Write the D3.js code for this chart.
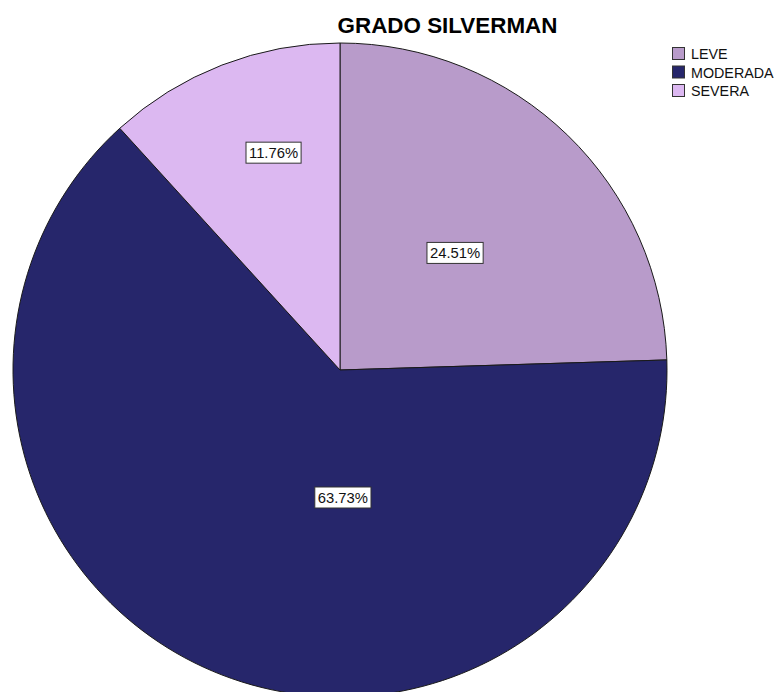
<!DOCTYPE html>
<html>
<head>
<meta charset="utf-8">
<script src="https://cdn.jsdelivr.net/npm/d3@7"></script>
<style>
  html, body { margin: 0; padding: 0; background: #fff; }
  svg { display: block; }
</style>
</head>
<body>
<svg id="chart" width="774" height="692"></svg>
<script>
// ---- data ----
const categories = ["LEVE", "MODERADA", "SEVERA"];
const values = [24.51, 63.73, 11.76];
const valueLabels = ["24.51%", "63.73%", "11.76%"];
const colors = ["#b89bca", "#26266b", "#dcb8f1"];
const titleText = "GRADO SILVERMAN";

// ---- label placement (layout config, degrees clockwise from top, fraction of radius) ----
const labelAngles = [44.5, 178.7, 343.0];
const labelRadii = [0.502, 0.39, 0.695];

const W = 774, H = 692;
const cx = 340, cy = 370, R = 327;

const svg = d3.select("#chart");

svg.append("text")
  .attr("x", 447.5).attr("y", 33)
  .attr("text-anchor", "middle")
  .attr("font-family", "Liberation Sans, Arial, sans-serif")
  .attr("font-weight", "bold")
  .attr("font-size", 22.4)
  .attr("fill", "#000")
  .text(titleText);

const g = svg.append("g").attr("transform", `translate(${cx},${cy})`);

const pie = d3.pie().sort(null).value(d => d.v);
const data = categories.map((c, i) => ({ c, v: values[i], i }));
const arcs = pie(data);
const arc = d3.arc().innerRadius(0).outerRadius(R);

g.selectAll("path.slice")
  .data(arcs)
  .enter().append("path")
  .attr("class", "slice")
  .attr("d", arc)
  .attr("fill", d => colors[d.data.i])
  .attr("stroke", "#1a1a1a")
  .attr("stroke-width", 1);

// labels
const lab = g.selectAll("g.lab")
  .data(arcs)
  .enter().append("g")
  .attr("class", "lab")
  .attr("transform", d => {
    const a = labelAngles[d.data.i] * Math.PI / 180;
    const r = labelRadii[d.data.i] * R;
    return `translate(${r * Math.sin(a)},${-r * Math.cos(a)})`;
  });

lab.append("text")
  .attr("text-anchor", "middle")
  .attr("dy", "0.35em")
  .attr("font-family", "Liberation Sans, Arial, sans-serif")
  .attr("font-size", 14.8)
  .attr("fill", "#111")
  .text(d => valueLabels[d.data.i]);

lab.each(function() {
  const gg = d3.select(this);
  const bb = gg.select("text").node().getBBox();
  gg.insert("rect", "text")
    .attr("x", bb.x - 3).attr("y", -10.5)
    .attr("width", bb.width + 6).attr("height", 21)
    .attr("fill", "#fff")
    .attr("stroke", "#333")
    .attr("stroke-width", 1);
});

// legend
const legend = svg.append("g").attr("transform", "translate(672,47)");
const rows = legend.selectAll("g")
  .data(categories)
  .enter().append("g")
  .attr("transform", (d, i) => `translate(0,${i * 18.5})`);
rows.append("rect")
  .attr("x", 0.5).attr("y", 0.5)
  .attr("width", 12).attr("height", 12)
  .attr("fill", (d, i) => colors[i])
  .attr("stroke", "#333")
  .attr("stroke-width", 1);
rows.append("text")
  .attr("x", 19).attr("y", 12)
  .attr("font-family", "Liberation Sans, Arial, sans-serif")
  .attr("font-size", 14.3)
  .attr("fill", "#111")
  .text(d => d);
</script>
</body>
</html>
